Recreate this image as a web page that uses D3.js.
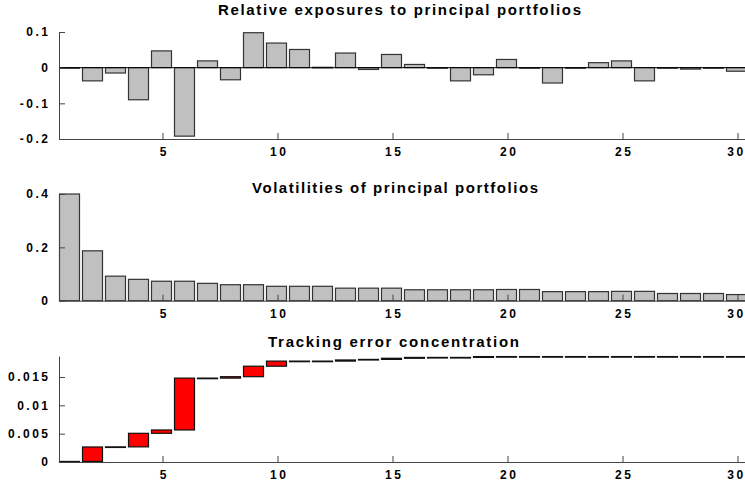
<!DOCTYPE html>
<html>
<head>
<meta charset="utf-8">
<script src="https://cdn.jsdelivr.net/npm/d3@7"></script>
<style>
  body { margin: 0; background: #fff; }
  svg { display: block; font-family: 'Liberation Sans', Arial, sans-serif; }
  .title { font-size: 15px; font-weight: bold; fill: #000; }
  .axis text { font-size: 12px; font-weight: bold; fill: #000; letter-spacing: 2.5px; }
  .axis path, .axis line { stroke: #444; stroke-width: 1; }
</style>
</head>
<body>
<svg id="chart" width="745" height="487"></svg>
<script>
/******************* Data ***********************************/
var portfolios = d3.range(1, 31);

var exposures = [0, -0.037, -0.015, -0.090, 0.047, -0.192, 0.019, -0.034, 0.098, 0.069,
  0.051, 0.001, 0.041, -0.005, 0.037, 0.009, 0, -0.037, -0.020, 0.023,
  0, -0.043, 0, 0.014, 0.019, -0.037, 0, -0.004, 0, -0.010];

var volatilities = [0.400, 0.187, 0.092, 0.080, 0.073, 0.073, 0.065, 0.060, 0.060, 0.054,
  0.054, 0.054, 0.047, 0.047, 0.047, 0.041, 0.041, 0.041, 0.041, 0.042,
  0.042, 0.034, 0.034, 0.034, 0.035, 0.035, 0.027, 0.027, 0.027, 0.023];

// cumulative tracking error after each portfolio
var trackingCum = [0.0001, 0.00265, 0.00267, 0.00506, 0.00565, 0.0148, 0.0148, 0.01505, 0.0169, 0.0178,
  0.0178, 0.0178, 0.0180, 0.0181, 0.0183, 0.01845, 0.01845, 0.01845, 0.0186, 0.0186,
  0.0186, 0.0186, 0.0186, 0.0186, 0.0186, 0.0186, 0.0186, 0.0186, 0.0186, 0.0186];

var xTickValues = [5, 10, 15, 20, 25, 30];
var exposureTicks = [-0.2, -0.1, 0, 0.1];
var volatilityTicks = [0, 0.2, 0.4];
var trackingTicks = [0, 0.005, 0.01, 0.015];

var titles = [
  'Relative exposures to principal portfolios',
  'Volatilities of principal portfolios',
  'Tracking error concentration'
];

/******************* Layout *********************************/
var svg = d3.select('#chart');
var left = 59;
var barW = 20;
var minH = 0.6; // zero height rects are not painted, keep a sliver so the outline shows

var x = d3.scaleLinear().domain([0.5, 30.5]).range([left, 749]);

function fmt(d) {
  return d === 0 ? '0' : String(d);
}

function drawTitle(txt, x0, len, baseline) {
  svg.append('text')
    .attr('class', 'title')
    .attr('x', x0)
    .attr('y', baseline)
    .attr('textLength', len)
    .attr('lengthAdjust', 'spacing')
    .text(txt);
}

function drawAxes(y, ticks, bottom) {
  svg.append('g')
    .attr('class', 'axis')
    .attr('transform', 'translate(0,' + bottom + ')')
    .call(d3.axisBottom(x).tickValues(xTickValues).tickSizeInner(-6).tickSizeOuter(0).tickPadding(8.5))
    .selectAll('text')
    .attr('dx', function(d) { return d === 30 ? -1.5 : 1.25; });

  svg.append('g')
    .attr('class', 'axis')
    .attr('transform', 'translate(' + left + ',0)')
    .call(d3.axisLeft(y).tickValues(ticks).tickFormat(fmt).tickSizeInner(-6).tickSizeOuter(0).tickPadding(8.5));
}

/******************* Panel 1 ********************************/
var y1 = d3.scaleLinear().domain([-0.2, 0.1]).range([139, 32]);

svg.append('g').selectAll('rect')
  .data(exposures)
  .enter().append('rect')
  .attr('x', function(d, i) { return x(portfolios[i]) - barW / 2 - 1; })
  .attr('width', barW)
  .attr('y', function(d) { return y1(Math.max(0, d)); })
  .attr('height', function(d) { return Math.max(minH, Math.abs(y1(d) - y1(0))); })
  .attr('fill', '#c0c0c0')
  .attr('stroke', '#333')
  .attr('stroke-width', 1.2);

svg.append('line')
  .attr('x1', x.range()[0])
  .attr('x2', x.range()[1])
  .attr('y1', y1(0))
  .attr('y2', y1(0))
  .attr('stroke', '#000')
  .attr('stroke-width', 1);

drawAxes(y1, exposureTicks, 139);
drawTitle(titles[0], 218, 363, 14.5);

/******************* Panel 2 ********************************/
var y2 = d3.scaleLinear().domain([0, 0.4]).range([300.7, 194]);

svg.append('g').selectAll('rect')
  .data(volatilities)
  .enter().append('rect')
  .attr('x', function(d, i) { return x(portfolios[i]) - barW / 2 - 1; })
  .attr('width', barW)
  .attr('y', function(d) { return y2(d); })
  .attr('height', function(d) { return y2(0) - y2(d); })
  .attr('fill', '#c0c0c0')
  .attr('stroke', '#333')
  .attr('stroke-width', 1.2);

drawAxes(y2, volatilityTicks, 300.7);
drawTitle(titles[1], 252, 286, 192.7);

/******************* Panel 3 ********************************/
var y3 = d3.scaleLinear().domain([0, 0.0187]).range([462, 356]);

svg.append('g').selectAll('rect')
  .data(trackingCum)
  .enter().append('rect')
  .attr('x', function(d, i) { return x(portfolios[i]) - barW / 2 - 1; })
  .attr('width', barW)
  .attr('y', function(d) { return y3(d); })
  .attr('height', function(d, i) {
    var prev = i === 0 ? 0 : trackingCum[i - 1];
    return Math.max(minH, y3(prev) - y3(d));
  })
  .attr('fill', '#ff0000')
  .attr('stroke', '#111')
  .attr('stroke-width', 1.2);

drawAxes(y3, trackingTicks, 462);
drawTitle(titles[2], 268, 251, 347.3);
</script>
</body>
</html>
